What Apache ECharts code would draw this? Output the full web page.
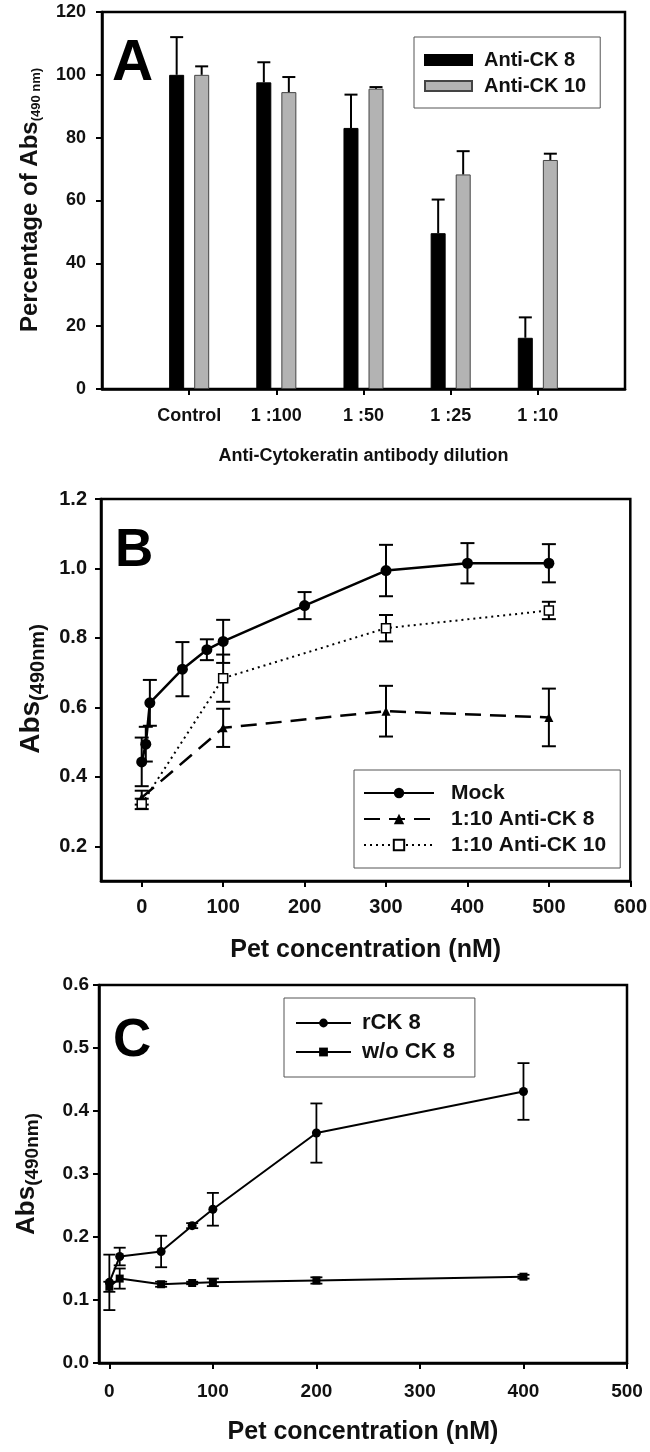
<!DOCTYPE html>
<html>
<head>
<meta charset="utf-8">
<script src="https://cdn.jsdelivr.net/npm/echarts@6/dist/echarts.min.js"></script>
<style>
html,body{margin:0;padding:0;background:#fff;}
#chart{width:650px;height:1452px;}
</style>
</head>
<body>
<div id="chart"></div>
<script>
// ---------- Panel A data ----------
const catsA = ['Control', '1 :100', '1 :50', '1 :25', '1 :10'];
const ck8Pct = [100, 97.6, 83.1, 49.6, 16.3];
const ck8PctErr = [12, 6.4, 10.6, 10.7, 6.5];
const ck10Pct = [100, 94.5, 95.6, 68.3, 72.9];
const ck10PctErr = [2.7, 4.8, 0.5, 7.4, 2.0];
const yTicksA = [0, 20, 40, 60, 80, 100, 120];

// ---------- Panel B data ----------
const mockX = [0, 5, 10, 50, 80, 100, 200, 300, 400, 500];
const mockY = [0.443, 0.494, 0.613, 0.710, 0.766, 0.790, 0.893, 0.994, 1.015, 1.015];
const mockErr = [0.07, 0.05, 0.066, 0.078, 0.03, 0.062, 0.039, 0.074, 0.058, 0.055];
const ck8X = [0, 100, 300, 500];
const ck8Y = [0.340, 0.541, 0.589, 0.571];
const ck8Err = [0.02, 0.055, 0.073, 0.083];
const ck10X = [0, 100, 300, 500];
const ck10Y = [0.322, 0.684, 0.828, 0.879];
const ck10Err = [0.015, 0.068, 0.038, 0.025];
const xTicksB = [0, 100, 200, 300, 400, 500, 600];
const yTicksB = [0.2, 0.4, 0.6, 0.8, 1.0, 1.2];

// ---------- Panel C data ----------
const rckX = [0, 10, 50, 80, 100, 200, 400];
const rckY = [0.128, 0.169, 0.177, 0.218, 0.244, 0.365, 0.431];
const rckErr = [0.044, 0.014, 0.025, 0.004, 0.026, 0.047, 0.045];
const woX = [0, 10, 50, 80, 100, 200, 400];
const woY = [0.121, 0.134, 0.125, 0.127, 0.128, 0.131, 0.137];
const woErr = [0.008, 0.016, 0.004, 0.002, 0.006, 0.005, 0.003];
const xTicksC = [0, 100, 200, 300, 400, 500];

// ---------- helpers ----------
const FONT = '"Liberation Sans", Arial, Helvetica, sans-serif';
const zip3 = (xs, ys, es) => xs.map((x, i) => [x, ys[i], es[i]]);

const measureCtx = document.createElement('canvas').getContext('2d');
function textW(str, size) {
  measureCtx.font = 'bold ' + size + 'px ' + FONT;
  return measureCtx.measureText(str).width;
}

function errBoth(halfCap, lw) {
  return function (params, api) {
    const x = api.value(0), y = api.value(1), e = api.value(2);
    const hi = api.coord([x, y + e]);
    const lo = api.coord([x, y - e]);
    const st = { stroke: '#000', lineWidth: lw };
    return {
      type: 'group',
      children: [
        { type: 'line', shape: { x1: hi[0], y1: hi[1], x2: lo[0], y2: lo[1] }, style: st },
        { type: 'line', shape: { x1: hi[0] - halfCap, y1: hi[1], x2: hi[0] + halfCap, y2: hi[1] }, style: st },
        { type: 'line', shape: { x1: lo[0] - halfCap, y1: lo[1], x2: lo[0] + halfCap, y2: lo[1] }, style: st }
      ]
    };
  };
}
function errUp(offset) {
  return function (params, api) {
    const c = api.value(0), v = api.value(1), e = api.value(2);
    const base = api.coord([c, v]);
    const top = api.coord([c, v + e]);
    const x = base[0] + offset;
    const st = { stroke: '#000', lineWidth: 2 };
    return {
      type: 'group',
      children: [
        { type: 'line', shape: { x1: x, y1: base[1], x2: x, y2: top[1] }, style: st },
        { type: 'line', shape: { x1: x - 6.5, y1: top[1], x2: x + 6.5, y2: top[1] }, style: st }
      ]
    };
  };
}

function rotatedLabel(cx, cy, main, sub, mainSize, subSize, subShift) {
  const w1 = textW(main, mainSize), w2 = textW(sub, subSize);
  const W = w1 + w2;
  return {
    type: 'group', x: cx, y: cy, rotation: Math.PI / 2,
    children: [
      { type: 'text', style: { text: main, x: -W / 2, y: 0, textAlign: 'left', textVerticalAlign: 'middle',
        font: 'bold ' + mainSize + 'px ' + FONT, fill: '#111' } },
      { type: 'text', style: { text: sub, x: -W / 2 + w1, y: subShift, textAlign: 'left', textVerticalAlign: 'middle',
        font: 'bold ' + subSize + 'px ' + FONT, fill: '#111' } }
    ]
  };
}

const axisLineStyle = { show: true, onZero: false, lineStyle: { color: '#000', width: 2.5 } };
const tickStyle = { show: true, inside: false, length: 6, lineStyle: { color: '#000', width: 2 } };
function lbl(size, margin, extra) {
  return Object.assign({ color: '#111', fontFamily: FONT, fontWeight: 'bold', fontSize: size, margin: margin }, extra || {});
}

const catAxisData = [''].concat(catsA).concat(['']);

const chart = echarts.init(document.getElementById('chart'), null, { renderer: 'canvas' });
const option = {
  animation: false,
  backgroundColor: '#fff',
  grid: [
    { left: 102, top: 12, width: 523, height: 377, show: true, borderColor: '#000', borderWidth: 2.5, backgroundColor: 'transparent' },
    { left: 101, top: 499, width: 530, height: 382, show: true, borderColor: '#000', borderWidth: 2.5, backgroundColor: 'transparent' },
    { left: 99, top: 985, width: 528, height: 378, show: true, borderColor: '#000', borderWidth: 2.5, backgroundColor: 'transparent' }
  ],
  xAxis: [
    {
      gridIndex: 0, type: 'category', data: catAxisData, boundaryGap: false,
      axisLine: axisLineStyle,
      axisTick: Object.assign({}, tickStyle, { alignWithLabel: true, interval: (i) => i > 0 && i < catAxisData.length - 1 }),
      axisLabel: lbl(18, 18, { interval: 0 }),
      splitLine: { show: false },
      name: 'Anti-Cytokeratin antibody dilution', nameLocation: 'middle', nameGap: 58,
      nameTextStyle: { color: '#111', fontFamily: FONT, fontWeight: 'bold', fontSize: 18 }
    },
    {
      gridIndex: 1, type: 'value', min: -50, max: 600,
      axisLine: axisLineStyle,
      axisTick: Object.assign({}, tickStyle, { customValues: xTicksB }),
      axisLabel: lbl(20, 16, { customValues: xTicksB }),
      splitLine: { show: false },
      name: 'Pet concentration (nM)', nameLocation: 'middle', nameGap: 57,
      nameTextStyle: { color: '#111', fontFamily: FONT, fontWeight: 'bold', fontSize: 25 }
    },
    {
      gridIndex: 2, type: 'value', min: -10, max: 500,
      axisLine: axisLineStyle,
      axisTick: Object.assign({}, tickStyle, { customValues: xTicksC }),
      axisLabel: lbl(19, 19, { customValues: xTicksC }),
      splitLine: { show: false },
      name: 'Pet concentration (nM)', nameLocation: 'middle', nameGap: 57,
      nameTextStyle: { color: '#111', fontFamily: FONT, fontWeight: 'bold', fontSize: 25 }
    }
  ],
  yAxis: [
    {
      gridIndex: 0, type: 'value', min: yTicksA[0], max: yTicksA[yTicksA.length - 1], interval: 20,
      axisLine: axisLineStyle, axisTick: tickStyle,
      axisLabel: lbl(18, 16),
      splitLine: { show: false }
    },
    {
      gridIndex: 1, type: 'value', min: 0.1, max: 1.2,
      axisLine: axisLineStyle,
      axisTick: Object.assign({}, tickStyle, { customValues: yTicksB }),
      axisLabel: lbl(20, 14, { customValues: yTicksB, formatter: (v) => v.toFixed(1) }),
      splitLine: { show: false }
    },
    {
      gridIndex: 2, type: 'value', min: 0, max: 0.6, interval: 0.1,
      axisLine: axisLineStyle, axisTick: tickStyle,
      axisLabel: lbl(19, 10, { formatter: (v) => v.toFixed(1) }),
      splitLine: { show: false }
    }
  ],
  legend: [
    {
      data: ['Anti-CK 8', 'Anti-CK 10'], orient: 'vertical', left: 414, top: 37, icon: 'rect',
      padding: [12, 14, 11, 10], itemGap: 4, itemWidth: 47, itemHeight: 10,
      backgroundColor: '#fff', borderColor: '#555', borderWidth: 1, borderRadius: 0,
      textStyle: { color: '#111', fontFamily: FONT, fontWeight: 'bold', fontSize: 20, lineHeight: 22, padding: [0, 0, 0, 7] }
    },
    {
      data: ['Mock', '1:10 Anti-CK 8', '1:10 Anti-CK 10'], orient: 'vertical', left: 354, top: 770,
      padding: [12, 14, 12, 9], itemGap: 4, itemWidth: 70, itemHeight: 13,
      backgroundColor: '#fff', borderColor: '#555', borderWidth: 1, borderRadius: 0,
      textStyle: { color: '#111', fontFamily: FONT, fontWeight: 'bold', fontSize: 21, lineHeight: 22, padding: [0, 0, 0, 12] }
    },
    {
      data: ['rCK 8', 'w/o CK 8'], orient: 'vertical', left: 284, top: 998,
      padding: [13, 20, 13, 11], itemGap: 5, itemWidth: 55, itemHeight: 11,
      backgroundColor: '#fff', borderColor: '#555', borderWidth: 1, borderRadius: 0,
      textStyle: { color: '#111', fontFamily: FONT, fontWeight: 'bold', fontSize: 22, lineHeight: 24, padding: [0, 0, 0, 6] }
    }
  ],
  graphic: [
    { type: 'text', left: 112, top: 36, style: { text: 'A', font: 'bold 57px ' + FONT, fill: '#000' } },
    { type: 'text', left: 115, top: 525, style: { text: 'B', font: 'bold 53px ' + FONT, fill: '#000' } },
    { type: 'text', left: 113, top: 1015, style: { text: 'C', font: 'bold 53px ' + FONT, fill: '#000' } },
    rotatedLabel(30, 200, 'Percentage of Abs', '(490 nm)', 24, 13, 6),
    rotatedLabel(31, 689, 'Abs', '(490nm)', 28, 20, 7),
    rotatedLabel(27, 1174, 'Abs', '(490nm)', 26, 19, 6)
  ],
  series: [
    // Panel A
    {
      name: 'Anti-CK 8', type: 'bar', xAxisIndex: 0, yAxisIndex: 0,
      data: ck8Pct.map((v, i) => [i + 1, v]), barWidth: 15, barGap: '67%',
      itemStyle: { color: '#000', borderColor: '#000', borderWidth: 1 }
    },
    {
      name: 'Anti-CK 10', type: 'bar', xAxisIndex: 0, yAxisIndex: 0,
      data: ck10Pct.map((v, i) => [i + 1, v]), barWidth: 15, barGap: '67%',
      itemStyle: { color: '#b3b3b3', borderColor: '#444', borderWidth: 1 }
    },
    {
      type: 'custom', xAxisIndex: 0, yAxisIndex: 0, renderItem: errUp(-12.5),
      data: ck8Pct.map((v, i) => [i + 1, v, ck8PctErr[i]]), z: 5
    },
    {
      type: 'custom', xAxisIndex: 0, yAxisIndex: 0, renderItem: errUp(12.5),
      data: ck10Pct.map((v, i) => [i + 1, v, ck10PctErr[i]]), z: 5
    },
    // Panel B error bars
    { type: 'custom', xAxisIndex: 1, yAxisIndex: 1, renderItem: errBoth(7, 2), data: zip3(mockX, mockY, mockErr), z: 3 },
    { type: 'custom', xAxisIndex: 1, yAxisIndex: 1, renderItem: errBoth(7, 2), data: zip3(ck8X, ck8Y, ck8Err), z: 3 },
    { type: 'custom', xAxisIndex: 1, yAxisIndex: 1, renderItem: errBoth(7, 2), data: zip3(ck10X, ck10Y, ck10Err), z: 3 },
    // Panel B lines
    {
      name: 'Mock', type: 'line', xAxisIndex: 1, yAxisIndex: 1,
      data: mockX.map((x, i) => [x, mockY[i]]),
      symbol: 'circle', symbolSize: 11,
      lineStyle: { color: '#000', width: 2.5, type: 'solid' },
      itemStyle: { color: '#000' }, z: 4
    },
    {
      name: '1:10 Anti-CK 8', type: 'line', xAxisIndex: 1, yAxisIndex: 1,
      data: ck8X.map((x, i) => [x, ck8Y[i]]),
      symbol: 'triangle', symbolSize: 9,
      lineStyle: { color: '#000', width: 2.5, type: [16, 9] },
      itemStyle: { color: '#000' }, z: 4
    },
    {
      name: '1:10 Anti-CK 10', type: 'line', xAxisIndex: 1, yAxisIndex: 1,
      data: ck10X.map((x, i) => [x, ck10Y[i]]),
      symbol: 'rect', symbolSize: 9,
      lineStyle: { color: '#000', width: 2, type: [2, 4] },
      itemStyle: { color: '#fff', borderColor: '#000', borderWidth: 1.5 }, z: 4
    },
    // Panel C error bars
    { type: 'custom', xAxisIndex: 2, yAxisIndex: 2, renderItem: errBoth(6, 1.8), data: zip3(rckX, rckY, rckErr), z: 3 },
    { type: 'custom', xAxisIndex: 2, yAxisIndex: 2, renderItem: errBoth(6, 1.8), data: zip3(woX, woY, woErr), z: 3 },
    // Panel C lines
    {
      name: 'rCK 8', type: 'line', xAxisIndex: 2, yAxisIndex: 2,
      data: rckX.map((x, i) => [x, rckY[i]]),
      symbol: 'circle', symbolSize: 9,
      lineStyle: { color: '#000', width: 2 }, itemStyle: { color: '#000' }, z: 4
    },
    {
      name: 'w/o CK 8', type: 'line', xAxisIndex: 2, yAxisIndex: 2,
      data: woX.map((x, i) => [x, woY[i]]),
      symbol: 'rect', symbolSize: 8,
      lineStyle: { color: '#000', width: 2 }, itemStyle: { color: '#000' }, z: 4
    }
  ]
};
chart.setOption(option);
</script>
</body>
</html>
